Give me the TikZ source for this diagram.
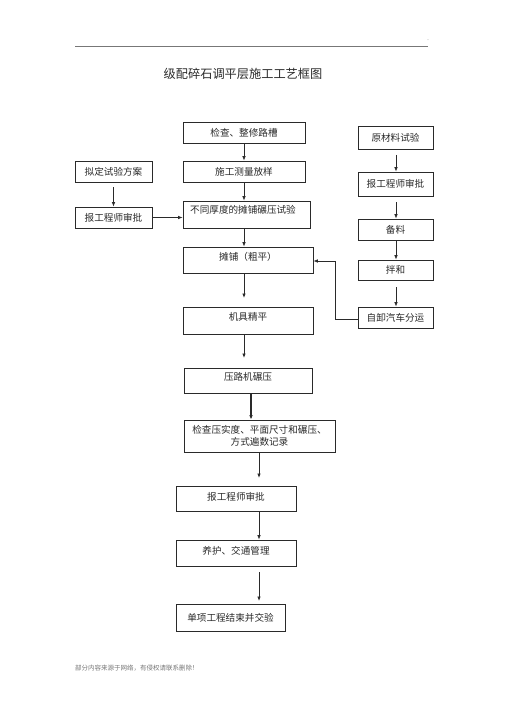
\documentclass[tikz,border=0pt]{standalone}
\usepackage{fontspec}
\setmainfont{Liberation Serif}
\newfontfamily\cjk{Noto Sans CJK SC}
\usetikzlibrary{arrows.meta}
\definecolor{ink}{HTML}{2A2A2A}
\definecolor{rule}{HTML}{777777}
\tikzset{
  box/.style={draw=ink, line width=0.8pt, inner sep=0pt, font=\cjk\fontsize{9.6}{12}\selectfont, text=ink},
  txt/.style={inner sep=0pt, font=\cjk\fontsize{9.6}{12}\selectfont, text=ink},
  arr/.style={draw=ink, line width=0.8pt, -{Latex[length=4.5pt,width=3.6pt]}},
  ln/.style={draw=ink, line width=0.8pt}
}
\begin{document}
\begin{tikzpicture}[x=1pt,y=-1pt]
\useasboundingbox (0,0) rectangle (505,714);
\fill[white] (0,0) rectangle (505,714);
% header
\coordinate (hl) at (75,46);
\coordinate (hr) at (428,46);
\draw[rule, line width=0.6pt] (hl) -- (hr);
\node[inner sep=0pt, text=rule, font=\fontsize{6}{6}\selectfont] (dot) at (428,40) {.};
\node[txt, font=\cjk\fontsize{12.2}{14}\selectfont] (title) at (243,74) {级配碎石调平层施工工艺框图};

% centre column
\node[box, minimum width=122, minimum height=21] (c1) at (244,132.5) {检查、整修路槽};
\node[box, minimum width=122, minimum height=21] (c2) at (244,171.5) {施工测量放样};
\node[box, minimum width=127, minimum height=27] (c3) at (246.5,214.5) {};
\node[txt] (c3t) at (243,210) {不同厚度的摊铺碾压试验};
\node[box, minimum width=130, minimum height=26, text depth=7pt] (c4) at (248,260) {摊铺（粗平）};
\node[box, minimum width=130, minimum height=27, text depth=8pt] (c5) at (248,320.5) {机具精平};
\node[box, minimum width=128, minimum height=25, text depth=8pt] (c6) at (248,380.5) {压路机碾压};
\node[box, minimum width=151, minimum height=32, align=center, text width=145] (c7) at (259.5,436) {检查压实度、平面尺寸和碾压、\\方式遍数记录};
\node[box, minimum width=120, minimum height=25, text depth=5pt] (c8) at (236,498.5) {报工程师审批};
\node[box, minimum width=120, minimum height=26, text depth=6pt] (c9) at (236,553) {养护、交通管理};
\node[box, minimum width=109, minimum height=27] (c10) at (230.5,617.5) {单项工程结束并交验};

% left column
\node[box, minimum width=77, minimum height=21] (l1) at (113.5,171.5) {拟定试验方案};
\node[box, minimum width=77, minimum height=21] (l2) at (113.5,217.5) {报工程师审批};

% right column
\node[box, minimum width=75, minimum height=23] (r1) at (395.5,137.5) {原材料试验};
\node[box, minimum width=75, minimum height=24] (r2) at (395.5,184) {报工程师审批};
\node[box, minimum width=75, minimum height=21] (r3) at (395.5,229.5) {备料};
\node[box, minimum width=75, minimum height=20] (r4) at (395.5,270) {拌和};
\node[box, minimum width=75, minimum height=21] (r5) at (395.5,317.5) {自卸汽车分运};

% centre arrows
\draw[arr] (c1.south) -- (c2.north);
\draw[arr] (c2.south) -- (c3.north -| c2.south);
\draw[arr] (c3.south -| c2.south) -- (c4.north -| c2.south);
\coordinate (a45) at (244,298);
\draw[arr] (c4.south -| c2.south) -- (a45);
\coordinate (a56) at (244,358);
\draw[arr] (c5.south -| c2.south) -- (a56);
\draw[arr, line width=1.1pt] (c6.south -| 251,0) -- (c7.north -| 251,0);
\coordinate (a78) at (259,478);
\draw[arr] (c7.south -| 259,0) -- (a78);
\draw[arr] (c8.south -| 259,0) -- (c9.north -| 259,0);
\coordinate (a9s) at (259,572);
\coordinate (a9e) at (259,601);
\draw[arr] (a9s) -- (a9e);

% left arrows
\coordinate (l1s) at (113.5,187);
\draw[arr] (l1s) -- (l2.north);
\draw[arr] (l2.east) -- (l2.east -| c3.west);

% right arrows
\coordinate (r1s) at (396,155);
\draw[arr] (r1s) -- (r2.north -| r1s);
\coordinate (r2s) at (396,202);
\draw[arr] (r2s) -- (r3.north -| r2s);
\draw[arr] (r3.south -| r2s) -- (r4.north -| r2s);
\coordinate (r4s) at (396,287);
\draw[arr] (r4s) -- (r5.north -| r4s);

% feedback
\coordinate (fb1) at (335,319);
\coordinate (fb2) at (335,261);
\draw[arr] (r5.west |- fb1) -- (fb1) -- (fb2) -- (fb2 -| c4.east);

% footer
\node[anchor=west, inner sep=0pt, text=rule, font=\cjk\fontsize{6.5}{8}\selectfont] (foot) at (75,668) {部分内容来源于网络，有侵权请联系删除！};
\end{tikzpicture}
\end{document}
